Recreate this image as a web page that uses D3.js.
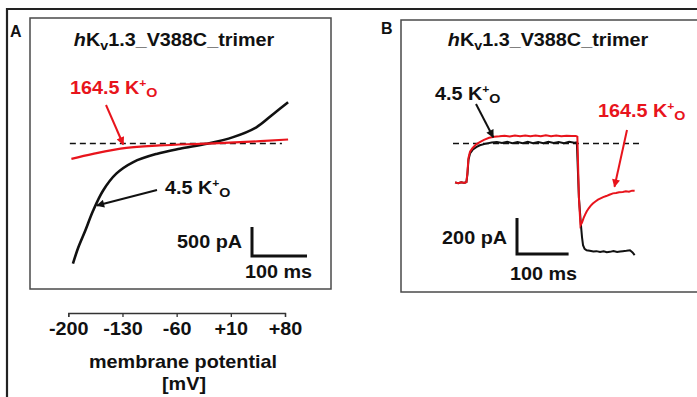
<!DOCTYPE html>
<html>
<head>
<meta charset="utf-8">
<script src="https://cdn.jsdelivr.net/npm/d3@7"></script>
<style>
  body { margin: 0; background: #fff; }
  svg { display: block; }
</style>
</head>
<body>
<div id="chart"></div>
<script>
// panel A: I-V ramp, membrane potential (mV) vs current (pA)
const ivVoltLow = [-194, -187, -178, -168, -155, -138, -116, -86, -56, -21, 13, 43, 65, 84];
const ivCurrLow = [-2070, -1790, -1500, -1160, -810, -520, -320, -180, -90, -5, 110, 280, 510, 710];
const ivVoltHigh = [-196, -168, -125, -82, -30, 22, 84];
const ivCurrHigh = [-264, -178, -74, -34, -5, 22, 69];
const ivTicks = [-200, -130, -60, 10, 80];

// panel B: step current traces, time (ms) vs current (pA)
const timeHigh = [4, 10, 16, 22, 26, 28, 30, 33, 38, 45, 52, 60, 70, 80, 90, 100, 110, 120, 130, 140, 150, 160, 170, 180, 190, 200, 210, 220, 230, 238, 241,
  244, 247, 250, 253, 256, 259, 263, 267, 271, 276, 281, 286, 291, 297, 303, 310, 316, 322, 329, 335, 341, 347, 352];
const currHigh = [-216, -221, -215, -219, -214, -160, -80, -45, -25, -5, 8, 20, 32, 38, 40, 43, 39, 45, 41, 45, 41, 44, 40, 46, 41, 44, 40, 43, 41, 42, 38,
  -300, -455, -440, -415, -395, -378, -360, -345, -333, -322, -312, -305, -298, -292, -285, -277, -275, -271, -269, -266, -268, -262, -263];
const timeLow = [4, 10, 16, 22, 26, 28, 30, 33, 38, 45, 52, 62, 75, 85, 95, 105, 115, 125, 135, 145, 155, 165, 175, 185, 195, 205, 215, 225, 235, 240,
  244, 248, 250, 252, 255, 259, 265, 272, 278, 285, 292, 298, 304, 311, 318, 324, 329, 336, 343, 348, 352];
const currLow = [-216, -221, -215, -219, -214, -170, -90, -55, -35, -20, -10, -2, 5, 8, 3, 9, 2, 8, 1, 9, 2, 8, 1, 9, 3, 8, 2, 9, 4, 6,
  -300, -455, -520, -565, -585, -593, -596, -600, -598, -603, -599, -604, -602, -598, -603, -600, -598, -596, -593, -605, -620];

const W = 697, H = 397;
const FONT = "'Liberation Sans', Arial, sans-serif";
const RED = '#e8141c';
const SX = 1.1; // source text is a bit wide

const svg = d3.select('#chart').append('svg')
  .attr('width', W).attr('height', H);

// arrow heads
const defs = svg.append('defs');
[['arrowK', '#111'], ['arrowR', RED]].forEach(([id, c]) => {
  defs.append('marker')
    .attr('id', id)
    .attr('viewBox', '0 0 10 10')
    .attr('refX', 9).attr('refY', 5)
    .attr('markerWidth', 9).attr('markerHeight', 8)
    .attr('markerUnits', 'userSpaceOnUse')
    .attr('orient', 'auto')
    .append('path').attr('d', 'M0,0L10,5L0,10z').attr('fill', c);
});

// outer frame + panel boxes
svg.append('path')
  .attr('d', `M7,${H}V9H${W}`)
  .attr('fill', 'none').attr('stroke', '#222').attr('stroke-width', 2.2);
svg.append('rect').attr('x', 30).attr('y', 18).attr('width', 301).attr('height', 271)
  .attr('fill', 'none').attr('stroke', '#4a4a4a').attr('stroke-width', 1.5);
svg.append('rect').attr('x', 401).attr('y', 20).attr('width', 310).attr('height', 272)
  .attr('fill', 'none').attr('stroke', '#4a4a4a').attr('stroke-width', 1.5);

// text helper: parts = [text, opts]
function txt(x, y, parts, opts = {}) {
  const t = svg.append('text')
    .attr('transform', `translate(${x},${y}) scale(${opts.sx || SX},1)`)
    .attr('text-anchor', opts.anchor || 'start')
    .style('font-family', FONT)
    .style('font-weight', 'bold')
    .style('font-size', (opts.size || 18) + 'px')
    .attr('fill', opts.color || '#111');
  parts.forEach(p => {
    const s = t.append('tspan').text(p[0]);
    if (p[1]) Object.entries(p[1]).forEach(([k, v]) => {
      if (k === 'dy') s.attr('dy', v);
      else s.style(k, v);
    });
  });
  return t;
}

function kLabel(x, y, num, color, anchor) {
  return txt(x, y, [
    [num + ' K'],
    ['+', { dy: -7, 'font-size': '11px' }],
    ['O', { dy: 10, 'font-size': '13px' }]
  ], { color, anchor });
}

function title(cx, y) {
  txt(cx, y, [
    ['h', { 'font-style': 'italic' }],
    ['K'],
    ['v', { dy: 4, 'font-size': '13px' }],
    ['1.3_V388C_trimer', { dy: -4 }]
  ], { anchor: 'middle' });
}

// ---------- Panel A ----------
txt(10, 37, [['A']], { size: 16, sx: 1 });
title(174, 46);

const xA = d3.scaleLinear().domain([-200, 80]).range([68.3, 285]);
const yA = d3.scaleLinear().domain([0, 500]).range([143.5, 114.5]);
const tA = d3.scaleLinear().domain([0, 100]).range([0, 55]); // ramp time

const lineA = d3.line().curve(d3.curveCatmullRom)
  .x(d => xA(d[0])).y(d => yA(d[1]));

svg.append('line')
  .attr('x1', xA(-198)).attr('x2', xA(76))
  .attr('y1', yA(0)).attr('y2', yA(0))
  .attr('stroke', '#111').attr('stroke-width', 1.3).attr('stroke-dasharray', '6,4');

svg.append('path')
  .datum(d3.zip(ivVoltLow, ivCurrLow))
  .attr('d', lineA).attr('fill', 'none')
  .attr('stroke', '#111').attr('stroke-width', 2.6);
svg.append('path')
  .datum(d3.zip(ivVoltHigh, ivCurrHigh))
  .attr('d', lineA).attr('fill', 'none')
  .attr('stroke', RED).attr('stroke-width', 2.2);

kLabel(70, 94, '164.5', RED);
svg.append('line')
  .attr('x1', 106).attr('y1', 105)
  .attr('x2', xA(-129)).attr('y2', yA(-17))
  .attr('stroke', RED).attr('stroke-width', 2).attr('marker-end', 'url(#arrowR)');

kLabel(165, 194, '4.5', '#111');
svg.append('line')
  .attr('x1', 157).attr('y1', 190)
  .attr('x2', xA(-163)).attr('y2', yA(-1069))
  .attr('stroke', '#111').attr('stroke-width', 2).attr('marker-end', 'url(#arrowK)');

// scale bar A
const sbA = { x: 252, y: 256 };
svg.append('path')
  .attr('d', `M${sbA.x},${sbA.y - (yA(0) - yA(500))}V${sbA.y}H${sbA.x + tA(100)}`)
  .attr('fill', 'none').attr('stroke', '#111').attr('stroke-width', 3);
txt(242, 248, [['500 pA']], { anchor: 'end' });
txt(245, 278, [['100 ms']]);

// x axis
const axisG = svg.append('g')
  .attr('transform', 'translate(0,313)')
  .call(d3.axisBottom(xA).tickValues(ivTicks).tickSize(4).tickPadding(5)
    .tickFormat(d => (d > 0 ? '+' : '') + d));
axisG.select('.domain').attr('stroke', '#333').attr('stroke-width', 1.3);
axisG.selectAll('.tick line').attr('stroke', '#333').attr('stroke-width', 1.3);
axisG.selectAll('.tick text')
  .style('font-family', FONT).style('font-weight', 'bold').style('font-size', '18px')
  .attr('fill', '#111')
  .attr('transform', `scale(${SX},1)`);
txt(183, 368, [['membrane potential']], { anchor: 'middle' });
txt(184, 390, [['[mV]']], { anchor: 'middle' });

// ---------- Panel B ----------
txt(381, 34, [['B']], { size: 16, sx: 1 });
title(548, 46);

const xB = d3.scaleLinear().domain([0, 100]).range([453, 504.6]);
const yB = d3.scaleLinear().domain([0, 200]).range([143.5, 107.5]);
const lineB = d3.line().x(d => xB(d[0])).y(d => yB(d[1]));

svg.append('line')
  .attr('x1', xB(0)).attr('x2', xB(363))
  .attr('y1', yB(0)).attr('y2', yB(0))
  .attr('stroke', '#111').attr('stroke-width', 1.3).attr('stroke-dasharray', '6,4');

svg.append('path')
  .datum(d3.zip(timeLow, currLow))
  .attr('d', lineB).attr('fill', 'none')
  .attr('stroke', '#111').attr('stroke-width', 2);
svg.append('path')
  .datum(d3.zip(timeHigh, currHigh))
  .attr('d', lineB).attr('fill', 'none')
  .attr('stroke', RED).attr('stroke-width', 2);

kLabel(435, 100, '4.5', '#111');
svg.append('line')
  .attr('x1', 476).attr('y1', 104)
  .attr('x2', xB(78)).attr('y2', yB(35))
  .attr('stroke', '#111').attr('stroke-width', 2).attr('marker-end', 'url(#arrowK)');

kLabel(598, 117, '164.5', RED);
svg.append('line')
  .attr('x1', 627).attr('y1', 130)
  .attr('x2', xB(313)).attr('y2', yB(-240))
  .attr('stroke', RED).attr('stroke-width', 2).attr('marker-end', 'url(#arrowR)');

// scale bar B
const sbB = { x: 517, y: 254 };
svg.append('path')
  .attr('d', `M${sbB.x},${sbB.y - (yB(0) - yB(200))}V${sbB.y}H${sbB.x + (xB(100) - xB(0))}`)
  .attr('fill', 'none').attr('stroke', '#111').attr('stroke-width', 3);
txt(507, 244, [['200 pA']], { anchor: 'end' });
txt(510, 280, [['100 ms']]);
</script>
</body>
</html>
